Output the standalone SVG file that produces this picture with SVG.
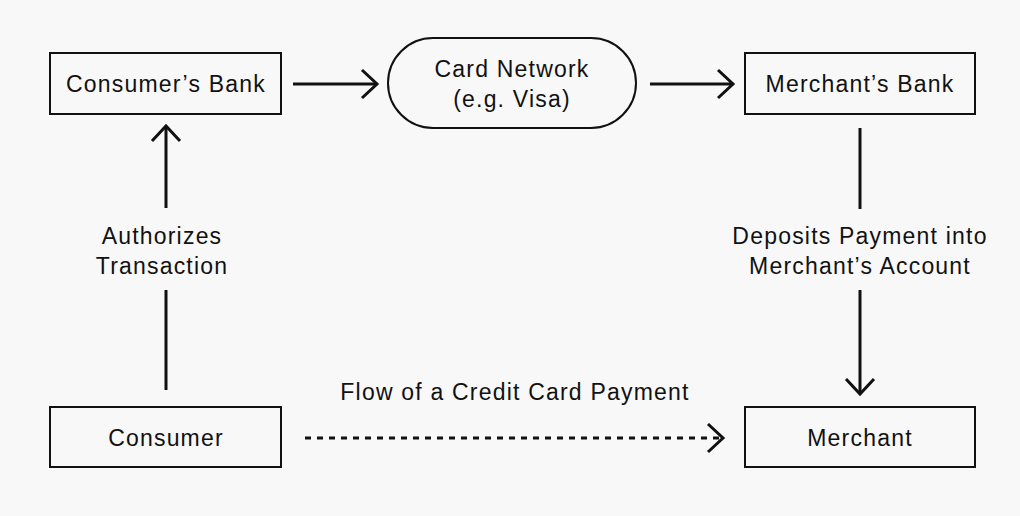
<svg xmlns="http://www.w3.org/2000/svg" width="1020" height="516" viewBox="0 0 1020 516">
<style>
.node{fill:none;stroke:#111;stroke-width:2}
.t{font-family:"Liberation Sans",Arial,sans-serif;font-size:23px;letter-spacing:1.2px;fill:#111;text-anchor:middle}
.c{fill:none;stroke:#111;stroke-width:3}
.d{stroke-dasharray:6 6}
</style>
<defs>
<marker id="ah" viewBox="0 0 20 32" refX="17" refY="16" markerWidth="20" markerHeight="32" markerUnits="userSpaceOnUse" orient="auto">
<path d="M2 2 L17 16 L2 30" fill="none" stroke="#111" stroke-width="3"/>
</marker>
</defs>
<rect width="1020" height="516" fill="#f8f8f8"/>
<g id="consumers-bank"><rect class="node" x="50" y="53" width="231" height="61"/><text class="t" x="166" y="92">Consumer’s Bank</text></g>
<g id="card-network"><rect class="node" x="388" y="38" width="248" height="90" rx="45"/><text class="t" x="512" y="77">Card Network</text><text class="t" x="512" y="107">(e.g. Visa)</text></g>
<g id="merchants-bank"><rect class="node" x="745" y="53" width="230" height="61"/><text class="t" x="860" y="92">Merchant’s Bank</text></g>
<g id="consumer"><rect class="node" x="50" y="407" width="231" height="60"/><text class="t" x="166" y="446">Consumer</text></g>
<g id="merchant"><rect class="node" x="745" y="407" width="230" height="60"/><text class="t" x="860" y="446">Merchant</text></g>
<g id="connectors">
<line class="c" x1="293" y1="84" x2="377" y2="84" marker-end="url(#ah)"/>
<line class="c" x1="650" y1="84" x2="733" y2="84" marker-end="url(#ah)"/>
<line class="c" x1="166" y1="390" x2="166" y2="290"/>
<line class="c" x1="166" y1="208" x2="166" y2="126" marker-end="url(#ah)"/>
<text class="t" x="162" y="244">Authorizes</text>
<text class="t" x="162" y="274">Transaction</text>
<line class="c" x1="860" y1="128" x2="860" y2="209"/>
<line class="c" x1="860" y1="290" x2="860" y2="394" marker-end="url(#ah)"/>
<text class="t" x="860" y="244">Deposits Payment into</text>
<text class="t" x="860" y="274">Merchant’s Account</text>
<line class="c d" x1="305" y1="438" x2="723" y2="438" marker-end="url(#ah)"/>
<text class="t" x="515" y="400">Flow of a Credit Card Payment</text>
</g>
</svg>
